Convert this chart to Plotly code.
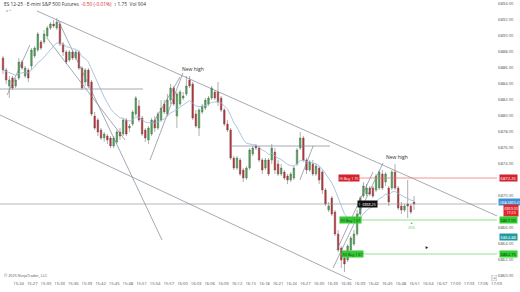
import plotly.graph_objects as go
import pandas as pd

# ---------------- data ----------------
opens = [6887.25, 6885.75, 6883.75, 6884.75, 6883.75, 6884.75, 6886.75, 6885.0, 6885.75, 6886.25,
         6887.5, 6888.25, 6889.25, 6889.25, 6890.0, 6891.0, 6891.5, 6891.0, 6891.5, 6889.0,
         6888.0, 6887.0, 6888.0, 6887.25, 6888.0, 6886.0, 6884.25, 6885.75, 6884.25, 6880.0,
         6879.5, 6878.25, 6877.25, 6877.5, 6877.25, 6876.25, 6876.75, 6878.0, 6877.75, 6879.5,
         6878.5, 6879.0, 6880.25, 6881.25, 6879.75, 6878.25, 6877.0, 6877.75, 6879.5, 6878.5,
         6879.5, 6881.5, 6880.25, 6882.0, 6883.5, 6880.0, 6881.5, 6882.25, 6882.75, 6884.5,
         6884.0, 6880.25, 6878.5, 6880.5, 6881.0, 6881.5, 6882.25, 6883.0, 6883.0, 6882.25,
         6880.75, 6879.0, 6878.25, 6874.75, 6873.5, 6874.5, 6873.25, 6872.25, 6873.5, 6875.25,
         6876.25, 6876.0, 6874.5, 6873.5, 6874.5, 6874.5, 6875.5, 6874.0, 6872.75, 6873.0,
         6872.5, 6872.0, 6872.25, 6874.0, 6876.0, 6877.25, 6874.5, 6873.25, 6874.0, 6872.75,
         6873.5, 6873.0, 6870.75, 6868.25, 6869.75, 6868.0, 6865.25, 6863.5, 6862.25, 6862.0,
         6863.25, 6864.0, 6865.25, 6867.75, 6870.0, 6870.25, 6871.0, 6871.0, 6870.75, 6871.0,
         6872.75, 6871.75, 6871.0, 6871.0, 6873.0, 6871.0, 6868.75, 6868.25, 6869.0, 6868.75,
         6869.25]
highs = [6887.5, 6886.0, 6885.0, 6885.0, 6884.75, 6887.25, 6887.0, 6886.25, 6886.0, 6888.5,
         6888.75, 6890.5, 6889.5, 6890.75, 6891.25, 6891.75, 6892.0, 6892.25, 6891.75, 6889.25,
         6888.25, 6888.25, 6888.25, 6888.25, 6888.25, 6886.25, 6886.0, 6886.0, 6884.5, 6880.5,
         6879.75, 6878.5, 6878.0, 6877.75, 6877.5, 6877.5, 6878.25, 6878.5, 6879.75, 6879.75,
         6879.0, 6880.75, 6882.5, 6882.0, 6880.0, 6878.5, 6878.75, 6879.75, 6880.0, 6880.5,
         6882.0, 6882.0, 6882.75, 6884.0, 6883.75, 6883.0, 6883.25, 6883.0, 6885.0, 6885.0,
         6884.25, 6880.75, 6881.0, 6881.5, 6882.25, 6882.5, 6883.75, 6883.25, 6884.25, 6882.5,
         6881.0, 6879.5, 6878.5, 6875.0, 6875.0, 6874.75, 6873.5, 6873.75, 6876.0, 6876.25,
         6876.5, 6876.25, 6874.75, 6874.75, 6874.75, 6876.5, 6876.0, 6874.5, 6874.0, 6873.25,
         6872.75, 6873.0, 6873.75, 6876.0, 6878.0, 6877.5, 6874.75, 6874.5, 6874.5, 6874.0,
         6873.75, 6873.25, 6871.0, 6869.25, 6870.0, 6868.25, 6865.75, 6863.75, 6862.5, 6864.0,
         6865.0, 6865.75, 6868.25, 6870.0, 6871.75, 6871.5, 6871.25, 6871.25, 6872.75, 6873.25,
         6873.25, 6873.0, 6871.25, 6873.25, 6874.0, 6871.25, 6869.25, 6869.0, 6872.0, 6869.0,
         6870.0]
lows = [6885.25, 6884.0, 6882.25, 6883.25, 6883.5, 6884.5, 6885.75, 6884.75, 6884.25, 6885.75,
        6887.25, 6888.0, 6888.25, 6889.0, 6889.75, 6890.75, 6891.0, 6890.75, 6888.75, 6887.5,
        6886.5, 6886.75, 6887.0, 6887.0, 6885.75, 6883.25, 6883.75, 6883.5, 6880.0, 6878.25,
        6877.5, 6877.0, 6876.75, 6876.5, 6876.0, 6876.0, 6876.5, 6877.0, 6877.5, 6877.5,
        6878.0, 6878.75, 6880.0, 6879.25, 6877.5, 6876.75, 6876.5, 6877.5, 6878.0, 6878.25,
        6879.25, 6880.25, 6880.0, 6881.5, 6881.25, 6878.5, 6881.25, 6882.0, 6882.5, 6883.5,
        6879.5, 6878.5, 6877.5, 6880.25, 6880.75, 6881.25, 6882.0, 6882.0, 6881.25, 6880.5,
        6878.75, 6878.0, 6874.5, 6873.25, 6873.25, 6872.5, 6871.75, 6872.0, 6873.25, 6875.0,
        6875.75, 6874.25, 6872.75, 6873.25, 6872.5, 6874.0, 6872.75, 6872.5, 6872.5, 6872.0,
        6871.5, 6871.75, 6872.0, 6873.75, 6875.75, 6874.25, 6872.75, 6873.0, 6872.5, 6872.5,
        6871.5, 6870.25, 6868.75, 6868.0, 6867.5, 6865.0, 6863.0, 6861.0, 6860.5, 6861.75,
        6863.0, 6863.75, 6865.0, 6867.5, 6869.75, 6870.0, 6870.0, 6869.75, 6870.5, 6870.75,
        6870.75, 6871.25, 6868.75, 6870.75, 6870.75, 6868.25, 6867.75, 6868.0, 6867.25, 6867.75,
        6868.25]
closes = [6885.75, 6884.5, 6884.5, 6883.5, 6884.5, 6886.75, 6886.0, 6886.0, 6884.75, 6888.25,
          6888.5, 6890.25, 6888.5, 6890.25, 6891.0, 6891.5, 6891.25, 6891.75, 6889.0, 6888.0,
          6886.75, 6888.0, 6887.25, 6888.0, 6886.0, 6883.5, 6885.75, 6883.75, 6880.25, 6878.5,
          6878.0, 6877.25, 6877.75, 6877.0, 6876.25, 6877.25, 6878.0, 6877.5, 6879.5, 6877.75,
          6878.75, 6880.5, 6882.25, 6879.5, 6877.75, 6877.25, 6878.5, 6879.5, 6878.5, 6880.25,
          6881.0, 6880.5, 6882.0, 6883.5, 6881.5, 6882.75, 6883.0, 6882.5, 6883.75, 6883.75,
          6879.75, 6878.75, 6880.75, 6881.25, 6882.0, 6882.25, 6883.5, 6882.25, 6881.75, 6880.75,
          6879.0, 6878.25, 6874.75, 6873.5, 6874.75, 6872.75, 6872.25, 6873.5, 6875.75, 6876.0,
          6876.0, 6874.5, 6873.25, 6874.5, 6872.75, 6876.0, 6873.25, 6872.75, 6873.5, 6872.25,
          6872.0, 6872.75, 6873.5, 6875.75, 6877.25, 6874.5, 6873.25, 6874.25, 6872.75, 6873.75,
          6872.0, 6870.75, 6869.0, 6868.75, 6867.75, 6865.25, 6863.25, 6862.0, 6861.5, 6863.75,
          6864.75, 6865.25, 6867.75, 6869.75, 6871.25, 6871.0, 6870.25, 6870.0, 6872.5, 6873.0,
          6871.0, 6872.75, 6869.25, 6873.0, 6871.0, 6868.5, 6868.25, 6868.75, 6868.75, 6868.0,
          6869.0]

time_labels = ["15:21", "15:24", "15:27", "15:30", "15:33", "15:36", "15:39", "15:42", "15:45",
               "15:48", "15:51", "15:54", "15:57", "16:00", "16:03", "16:06", "16:09", "16:12",
               "16:15", "16:18", "16:21", "16:24", "16:27", "16:30", "16:33", "16:36", "16:39",
               "16:42", "16:45", "16:48", "16:51", "16:54", "16:57", "17:00", "17:03", "17:06",
               "17:09"]
price_ticks = [6860, 6862, 6864, 6866, 6868, 6870, 6872, 6874, 6876, 6878, 6880, 6882,
               6884, 6886, 6888, 6890, 6892, 6894]
hidden_ticks = [6868, 6872]  # covered by the order / price markers on the axis

# drawn trend lines: (bar0, price0, bar1, price1)
trend_lines = [
    (10.75, 6893.125, 156.3, 6867.5),     # upper channel
    (-0.95, 6880.125, 112.9, 6859.0),     # lower channel
    (13.9, 6889.75, 38.6, 6877.0),        # steep channel a
    (17.4, 6892.0, 50.3, 6864.5),         # steep channel b
    (1.3, 6882.625, 8.5, 6888.875),       # first low rising line
    (46.5, 6874.5, 56.9, 6885.375),       # rising line
    (47.5, 6879.125, 56.0, 6884.875),     # rising line
    (93.9, 6872.0, 98.1, 6876.25),        # small rising line
    (104.4, 6861.0, 120.2, 6874.125),     # second rally line
    (105.6, 6863.25, 117.0, 6873.0),      # second rally line
]
flat_lines = [  # (bar0, bar1, price)
    (-0.95, 44.3, 6883.375),
    (72.4, 103.4, 6876.25),
]
order_red = 6872.25
order_green_1 = 6867.0
order_green_2 = 6862.75
teal_level = 6864.875

# ---------------- figure ----------------
n = len(opens)
bars = list(range(n))
x_lo, x_hi = -0.95, 156.25
y_lo, y_hi = 6859.5, 6894.5
first_tick, tick_step = 0.63, 4.318

fig = go.Figure()

for (a, pa, b, pb) in trend_lines:
    fig.add_trace(go.Scatter(x=[a, b], y=[pa, pb], mode="lines",
                             line=dict(color="rgba(120,128,140,0.75)", width=0.9),
                             hoverinfo="skip", showlegend=False))
for (a, b, p) in flat_lines:
    fig.add_trace(go.Scatter(x=[a, b], y=[p, p], mode="lines",
                             line=dict(color="rgba(120,128,140,0.75)", width=0.9),
                             hoverinfo="skip", showlegend=False))

# last price line
fig.add_trace(go.Scatter(x=[x_lo, x_hi], y=[closes[-1], closes[-1]], mode="lines",
                         line=dict(color="rgba(140,140,150,0.8)", width=0.8),
                         hoverinfo="skip", showlegend=False))
# order lines
for p, col in [(order_red, "rgba(235,110,110,0.9)"), (order_green_1, "rgba(110,215,110,0.9)"),
               (order_green_2, "rgba(110,215,110,0.9)")]:
    fig.add_trace(go.Scatter(x=[106.6, x_hi], y=[p, p], mode="lines",
                             line=dict(color=col, width=0.8),
                             hoverinfo="skip", showlegend=False))

# moving average
ma = pd.Series(closes).ewm(span=14, adjust=False).mean()
fig.add_trace(go.Scatter(x=bars, y=ma, mode="lines",
                         line=dict(color="rgba(150,185,215,0.9)", width=0.9),
                         hoverinfo="skip", showlegend=False))

fig.add_trace(go.Candlestick(
    x=bars, open=opens, high=highs, low=lows, close=closes,
    increasing=dict(line=dict(color="#5a6a5a", width=0.5), fillcolor="#3fae49"),
    decreasing=dict(line=dict(color="#6a5a5a", width=0.5), fillcolor="#d3222c"),
    whiskerwidth=0, hoverinfo="skip", showlegend=False))

FONT = "Open Sans"
ann = []
ann.append(dict(xref="paper", yref="paper", x=0.004, y=1 - 4 / 280, xanchor="left", yanchor="middle",
                showarrow=False, font=dict(family=FONT, size=4.8, color="#333"),
                text="ES 12-25 · E-mini S&P 500 Futures  <span style='color:#d3222c'>-0.50 (-0.01%)</span>"
                     "  ↕ 1.75  Vol 904"))
ann.append(dict(xref="paper", yref="paper", x=0.008, y=1 - 11 / 280, xanchor="left", yanchor="middle",
                showarrow=False, font=dict(family=FONT, size=4, color="#555"), text="v ^"))
ann.append(dict(xref="paper", yref="paper", x=0.004, y=0.0, xanchor="left", yanchor="bottom",
                showarrow=False, font=dict(family=FONT, size=3.8, color="#555"),
                text="© 2025 NinjaTrader, LLC"))
for bx, by in [(60.1, 6885.9), (124.6, 6874.9)]:
    ann.append(dict(x=bx, y=by, xref="x", yref="y", showarrow=False, text="New high",
                    font=dict(family=FONT, size=5, color="#333")))

def chart_label(bx, p, text, bg, fc="white"):
    ann.append(dict(x=bx, y=p, xref="x", yref="y", showarrow=False, text=text, xanchor="left",
                    bgcolor=bg, borderpad=0.5, font=dict(family=FONT, size=3.6, color=fc)))

chart_label(106.0, order_red, "Hi Buy 1 75", "#d3222c")
chart_label(106.3, order_green_1, "Fill Buy 1 67", "#34c934", "#0b3b0b")
chart_label(106.8, order_green_2, "Fill Buy 1 67", "#34c934", "#0b3b0b")
chart_label(112.0, closes[-1], "1  6868.25 ", "#111111")
ann.append(dict(x=129.3, y=6866.4, xref="x", yref="y", showarrow=False, text="▲<br>25%",
                font=dict(family=FONT, size=3.6, color="#5cc75c")))
ann.append(dict(x=134.0, y=6863.6, xref="x", yref="y", showarrow=False, text="▲", textangle=-30,
                font=dict(family="DejaVu Sans", size=3.6, color="#222")))

def axis_label(p, text, bg, fc="white", px=499, size=4.2):
    ann.append(dict(xref="paper", yref="y", x=px / 497, y=p, xanchor="left", showarrow=False,
                    text=text, bgcolor=bg, borderpad=0.5, font=dict(family=FONT, size=size, color=fc)))

axis_label(order_red, f"{order_red:.2f}", "#d3222c")
axis_label(6869.3, f"LMA {ma.iloc[-1]:.2f}", "#3d8fd8", px=498, size=3.5)
axis_label(6868.2, f"{closes[-1]:.2f}<br>17:23", "#e0262e", px=503, size=3.6)
axis_label(order_green_1, f"{order_green_1:.2f}", "#2fd12f", "#0b2b0b")
axis_label(teal_level, f"{teal_level:.2f}", "#1f9aa0")
axis_label(order_green_2, f"{order_green_2:.2f}", "#2fd12f", "#0b2b0b")
ann.append(dict(xref="paper", yref="paper", x=497 / 497, y=2 / 280, xanchor="right", yanchor="middle",
                showarrow=False, text="|◂|", bordercolor="#bbb", borderwidth=0.5, borderpad=0.5,
                font=dict(family="DejaVu Sans", size=3.4, color="#888")))

fig.update_layout(
    width=520, height=292, margin=dict(l=0, r=23, t=0, b=12),
    paper_bgcolor="white", plot_bgcolor="white",
    annotations=ann,
    xaxis=dict(range=[x_lo, x_hi], rangeslider=dict(visible=False), showgrid=False, zeroline=False,
               tickvals=[first_tick + k * tick_step for k in range(len(time_labels))],
               ticktext=time_labels, ticks="", tickfont=dict(family=FONT, size=4.2, color="#555"),
               showline=False),
    yaxis=dict(range=[y_lo, y_hi], side="right", showgrid=False, zeroline=False,
               tickvals=price_ticks,
               ticktext=["" if p in hidden_ticks else f"{p:.2f}" for p in price_ticks], ticks="",
               tickfont=dict(family=FONT, size=4.2, color="#555"), showline=False),
)

fig.write_html("out.html")
